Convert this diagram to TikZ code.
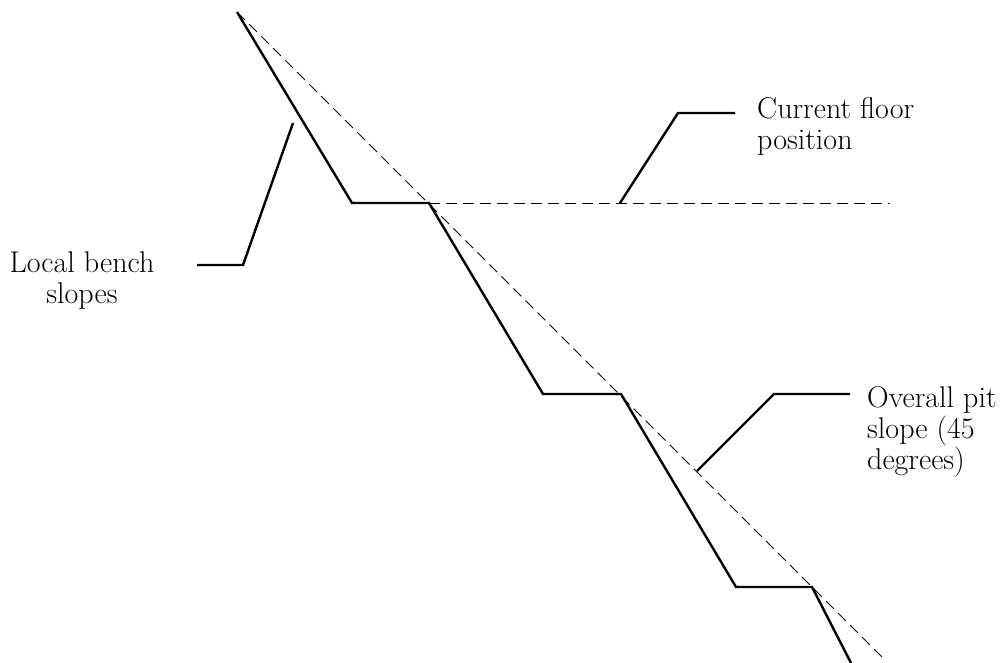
\documentclass[tikz,border=0pt]{standalone}
\begin{document}
\begin{tikzpicture}[x=1pt,y=-1pt,
  bench/.style={line width=2.4pt, line join=miter},
  guide/.style={line width=1pt, dash pattern=on 11pt off 6pt},
  leader/.style={line width=2.4pt},
  label/.style={inner sep=0pt, font=\fontsize{30}{31}\selectfont}]
\useasboundingbox[clip] (0,0) rectangle (1008,663);

% bench profile corners
\coordinate (p0) at (237,12);
\coordinate (p1) at (352,203);
\coordinate (p2) at (429,203);
\coordinate (p3) at (543,394);
\coordinate (p4) at (621,394);
\coordinate (p5) at (736,587);
\coordinate (p6) at (812,587);
\coordinate (p7) at (851,663);
% ends of the guide lines
\coordinate (toe) at (886,661);
\coordinate (floorend) at (890,203);

% overall slope and floor level
\draw[guide] (p0) -- (toe);
\draw[guide] (p2) -- (floorend);

% stepped bench face
\draw[bench] (p0) -- (p1) -- (p2) -- (p3) -- (p4) -- (p5) -- (p6) -- (p7);

% labels
\node[label, anchor=north west, align=left] (floor) at (757,97) {Current floor\\position};
\node[label, anchor=north, align=center] (local) at (82,251) {Local bench\\slopes};
\node[label, anchor=north west, align=left] (pit) at (867,386) {Overall pit\\slope (45\\degrees)};

% leader lines
\coordinate (f0) at (620,203);
\coordinate (f1) at (678,113);
\coordinate (f2) at (735,113);
\draw[leader] (f0) -- (f1) -- (f2);

\coordinate (l0) at (293,123);
\coordinate (l1) at (243,265);
\coordinate (l2) at (197,265);
\draw[leader] (l0) -- (l1) -- (l2);

\coordinate (o0) at (697,471);
\coordinate (o1) at (774,394);
\coordinate (o2) at (850,394);
\draw[leader] (o0) -- (o1) -- (o2);
\end{tikzpicture}
\end{document}
